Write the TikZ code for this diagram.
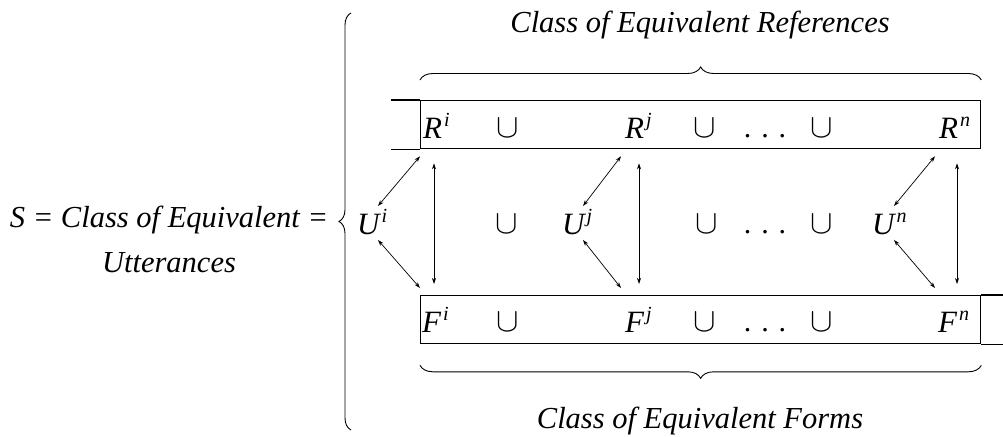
\documentclass[tikz,border=0pt]{standalone}
\usepackage{fontspec}
\setmainfont{Liberation Serif}
\usepackage{tikz}
\usetikzlibrary{positioning,arrows.meta,decorations.pathreplacing,calc}

% letter with raised index
\newcommand{\setel}[2]{#1\hspace{2pt}\raisebox{12pt}{\fontsize{20}{20}\selectfont #2}}
\newcommand{\bigcupop}{\scalebox{1.35}{$\cup$}}

\begin{document}
\begin{tikzpicture}[x=1pt, y=1pt,
  lbl/.style={font=\fontsize{30.5}{36}\selectfont\itshape, inner sep=0pt},
  elem/.style={font=\fontsize{31}{34}\selectfont\itshape, inner sep=0pt, anchor=base west},
  op/.style={font=\fontsize{25}{30}\selectfont, inner sep=0pt, anchor=base},
  row/.style={draw, line width=1.3pt, minimum width=560pt, minimum height=48pt, anchor=north west, inner sep=0pt},
  link/.style={{Stealth[length=6pt,width=4pt]}-{Stealth[length=6pt,width=4pt]}, line width=0.7pt},
  brc/.style={decorate, decoration={brace, amplitude=13pt}, line width=0.9pt}]
  \useasboundingbox (0,0) rectangle (1003,-436);

  % Rows: references on top, forms below
  \node[row] (rrow) at (420,-100) {};
  \node[row] (frow) at (420,-295) {};
  \draw[line width=1.3pt] (rrow.north west) -- ++(-29,0);
  \draw[line width=1.3pt] (rrow.south west) -- ++(-29,0);
  \draw[line width=1.3pt] (frow.north east) -- ++(23,0);
  \draw[line width=1.3pt] (frow.south east) -- ++(23,0);

  % References
  \node[elem] (Ri) at (423,-138) {\setel{R}{i}};
  \node[op] (rcup1) at (508,-137) {\bigcupop};
  \node[elem] (Rj) at (625,-138) {\setel{R}{j}};
  \node[op] (rcup2) at (705,-137) {\bigcupop};
  \node[op, font=\fontsize{30}{34}\selectfont] (rdots) at (765,-137) {.\hspace{10pt}.\hspace{10pt}.};
  \node[op] (rcup3) at (822,-137) {\bigcupop};
  \node[elem] (Rn) at (939,-138) {\setel{R}{n}};

  % Utterances
  \node[elem] (Ui) at (357,-234) {\setel{U}{i}};
  \node[op] (ucup1) at (507,-233) {\bigcupop};
  \node[elem] (Uj) at (562,-234) {\setel{U}{j}};
  \node[op] (ucup2) at (707,-233) {\bigcupop};
  \node[op, font=\fontsize{30}{34}\selectfont] (udots) at (765,-233) {.\hspace{10pt}.\hspace{10pt}.};
  \node[op] (ucup3) at (822,-233) {\bigcupop};
  \node[elem] (Un) at (872,-234) {\setel{U}{n}};

  % Forms
  \node[elem] (Fi) at (422,-332) {\setel{F}{i}};
  \node[op] (fcup1) at (508,-331) {\bigcupop};
  \node[elem] (Fj) at (625,-332) {\setel{F}{j}};
  \node[op] (fcup2) at (705,-331) {\bigcupop};
  \node[op, font=\fontsize{30}{34}\selectfont] (fdots) at (765,-331) {.\hspace{10pt}.\hspace{10pt}.};
  \node[op] (fcup3) at (822,-331) {\bigcupop};
  \node[elem] (Fn) at (938,-332) {\setel{F}{n}};

  % Links between utterance, reference and form
  \draw[link] ($(Ui.base west)+(21,28)$) -- ($(rrow.south west)+(0,-7)$);
  \draw[link] ($(Ui.base west)+(21,-6)$) -- ($(frow.north west)+(0,7)$);
  \draw[link] ($(rrow.south west)+(14,-14)$) -- ($(frow.north west)+(14,11)$);

  \draw[link] ($(Uj.base west)+(21,28)$) -- ($(rrow.south west)+(201,-7)$);
  \draw[link] ($(Uj.base west)+(21,-6)$) -- ($(frow.north west)+(201,7)$);
  \draw[link] ($(rrow.south west)+(219,-14)$) -- ($(frow.north west)+(219,11)$);

  \draw[link] ($(Un.base west)+(22,28)$) -- ($(rrow.south west)+(515,-7)$);
  \draw[link] ($(Un.base west)+(22,-6)$) -- ($(frow.north west)+(515,7)$);
  \draw[link] ($(rrow.south west)+(537,-14)$) -- ($(frow.north west)+(537,11)$);

  % Braces
  \draw[brc] ($(rrow.north west)+(0,20)$) -- ($(rrow.north east)+(0,20)$);
  \draw[brc] ($(frow.south east)+(0,-21)$) -- ($(frow.south west)+(0,-21)$);
  \draw[brc, decoration={brace, amplitude=12pt}] (351,-430) -- (351,-13);

  % Labels
  \node[lbl, anchor=base] (refs) at (700,-33) {Class of Equivalent References};
  \node[lbl, anchor=base] (forms) at (700,-428) {Class of Equivalent Forms};
  \node[lbl, anchor=base] (sdef) at (169,-227) {S = Class of Equivalent =};
  \node[lbl, anchor=base] (utt) at (169,-272) {Utterances};
\end{tikzpicture}
\end{document}
